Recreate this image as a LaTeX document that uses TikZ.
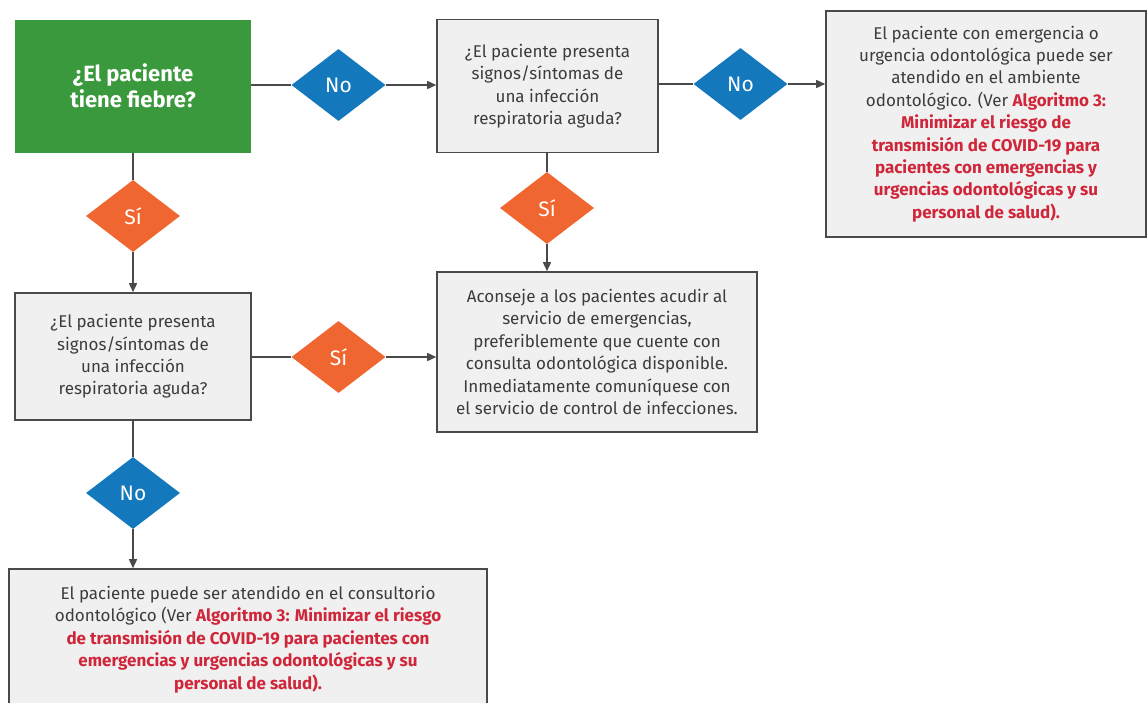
\documentclass[tikz,border=0pt]{standalone}
\usepackage{fontspec}
\setmainfont{Fira Sans}
\usetikzlibrary{shapes.geometric,arrows.meta}
\definecolor{gfill}{HTML}{3A993C}
\definecolor{bfill}{HTML}{F0F0F0}
\definecolor{bline}{HTML}{4A4A4A}
\definecolor{txt}{HTML}{3C3C3C}
\definecolor{rtxt}{HTML}{D0263A}
\definecolor{blu}{HTML}{1478BD}
\definecolor{ora}{HTML}{F06630}
\newcommand{\rd}[1]{\textcolor{rtxt}{\bfseries #1}}
\begin{document}
\begin{tikzpicture}[x=1pt,y=-1pt,
  box/.style={draw=bline, fill=bfill, line width=1.6pt, align=center, text=txt,
    font=\fontsize{17}{22.4}\selectfont, inner sep=0pt},
  gbox/.style={fill=gfill, align=center, text=white, inner sep=0pt,
    font=\fontsize{22}{25.5}\selectfont\bfseries},
  dia/.style={diamond, minimum width=94, minimum height=72, inner sep=0pt,
    text=white, font=\fontsize{21}{22}\selectfont},
  dno/.style={dia, fill=blu},
  dsi/.style={dia, fill=ora},
  con/.style={draw=bline, line width=1.5pt},
  arr/.style={con, -{Triangle[length=9pt,width=8pt]}}]
\useasboundingbox (0,0) rectangle (1148,702);
% nodes
\node[gbox, minimum width=236, minimum height=133] (q1) at (133,86) {¿El paciente\\tiene fiebre?};
\node[dno] (n1) at (338.5,85) {No};
\node[box, minimum width=221, minimum height=133] (q2) at (547.5,86) {¿El paciente presenta\\signos/síntomas de\\una infección\\respiratoria aguda?};
\node[dno] (n2) at (740.5,84) {No};
\node[box, minimum width=320, minimum height=226] (rc) at (986,124) {El paciente con emergencia o\\urgencia odontológica puede ser\\atendido en el ambiente\\odontológico. (Ver \rd{Algoritmo 3:}\\\rd{Minimizar el riesgo de}\\\rd{transmisión de COVID-19 para}\\\rd{pacientes con emergencias y}\\\rd{urgencias odontológicas y su}\\\rd{personal de salud).}};
\node[dsi] (s1) at (133,216) {Sí};
\node[dsi] (s3) at (547,208) {Sí};
\node[box, minimum width=236, minimum height=127] (q3) at (133,356.5) {¿El paciente presenta\\signos/síntomas de\\una infección\\respiratoria aguda?};
\node[dsi] (s2) at (338.5,357) {Sí};
\node[box, minimum width=320, minimum height=160] (re) at (597,352) {Aconseje a los pacientes acudir al\\servicio de emergencias,\\preferiblemente que cuente con\\consulta odontológica disponible.\\Inmediatamente comuníquese con\\el servicio de control de infecciones.};
\node[dno] (n3) at (133,493) {No};
\node[box, minimum width=478, minimum height=141] (rf) at (248,639.5) {El paciente puede ser atendido en el consultorio\\odontológico (Ver \rd{Algoritmo 3: Minimizar el riesgo}\\\rd{de transmisión de COVID-19 para pacientes con}\\\rd{emergencias y urgencias odontológicas y su}\\\rd{personal de salud).}};
% connectors
\draw[con] (q1.east |- n1) -- (n1.west);
\draw[arr] (n1.east) -- (n1 -| q2.west);
\draw[con] (q2.east |- n2) -- (n2.west);
\draw[arr] (n2.east) -- (n2 -| rc.west);
\draw[con] (q1.south) -- (s1.north);
\draw[arr] (s1.south) -- (q3.north);
\draw[con] (q2.south -| s3) -- (s3.north);
\draw[arr] (s3.south) -- (s3 |- re.north);
\draw[con] (q3.east |- s2) -- (s2.west);
\draw[arr] (s2.east) -- (s2 -| re.west);
\draw[con] (q3.south) -- (n3.north);
\draw[arr] (n3.south) -- (n3 |- rf.north);
\end{tikzpicture}
\end{document}
